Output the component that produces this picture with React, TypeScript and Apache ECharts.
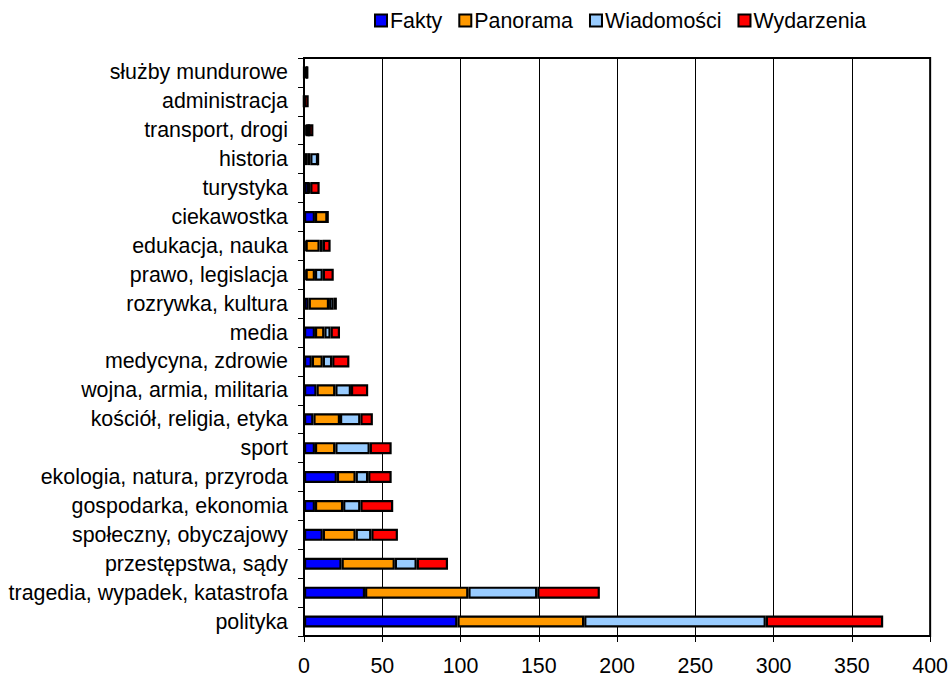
import React, { useEffect, useRef } from "react";
import * as echarts from "echarts";

const categories = [
  "polityka",
  "tragedia, wypadek, katastrofa",
  "przestępstwa, sądy",
  "społeczny, obyczajowy",
  "gospodarka, ekonomia",
  "ekologia, natura, przyroda",
  "sport",
  "kościół, religia, etyka",
  "wojna, armia, militaria",
  "medycyna, zdrowie",
  "media",
  "rozrywka, kultura",
  "prawo, legislacja",
  "edukacja, nauka",
  "ciekawostka",
  "turystyka",
  "historia",
  "transport, drogi",
  "administracja",
  "służby mundurowe",
];

const fakty = [98, 39, 24, 12, 7, 21, 7, 6, 8, 5, 7, 3, 1, 1, 7, 3, 2, 1, 0, 0];
const panorama = [81, 66, 34, 21, 18, 12, 13, 17, 12, 7, 6, 13, 6, 9, 8, 0, 2, 2, 0, 2];
const wiadomosci = [116, 44, 14, 10, 11, 8, 22, 13, 10, 6, 4, 3, 5, 2, 0, 1, 5, 0, 0, 0];
const wydarzenia = [75, 40, 20, 17, 21, 15, 14, 8, 11, 11, 6, 2, 7, 5, 0, 6, 0, 3, 3, 0];

const seriesNames = ["Fakty", "Panorama", "Wiadomości", "Wydarzenia"];
const seriesColors = ["#0000FF", "#FF9900", "#99CCFF", "#FF0000"];
const seriesData = [fakty, panorama, wiadomosci, wydarzenia];

const xTicks = { min: 0, max: 400, interval: 50 };

const FONT = "'Liberation Sans', Arial, sans-serif";
const FS = 21.4;

export default function App() {
  const ref = useRef<HTMLDivElement>(null);

  useEffect(() => {
    if (!ref.current) return;
    const chart = echarts.init(ref.current, undefined, { renderer: "svg" });
    chart.setOption({
      animation: false,
      backgroundColor: "#ffffff",
      textStyle: { fontFamily: FONT },
      legend: {
        left: 369,
        top: 5,
        itemWidth: 12,
        itemHeight: 12,
        itemGap: 16,
        icon: "rect",
        itemStyle: { borderColor: "#000", borderWidth: 2 },
        textStyle: { fontSize: FS, color: "#000", fontFamily: FONT, padding: [0, 0, 0, -2] },
        data: seriesNames,
      },
      grid: {
        left: 304,
        right: 18,
        top: 58,
        bottom: 39,
        show: true,
        borderColor: "#000",
        borderWidth: 2,
        backgroundColor: "transparent",
      },
      xAxis: {
        type: "value",
        min: xTicks.min,
        max: xTicks.max,
        interval: xTicks.interval,
        axisLine: { show: true, lineStyle: { color: "#000", width: 2 } },
        axisTick: { show: true, length: 6, lineStyle: { color: "#000", width: 1 } },
        axisLabel: { fontSize: FS, color: "#000", margin: 19, fontFamily: FONT },
        splitLine: { show: true, lineStyle: { color: "#000", width: 1 } },
      },
      yAxis: {
        type: "category",
        data: categories,
        axisLine: { show: true, lineStyle: { color: "#000", width: 2 } },
        axisTick: { show: true, length: 6, lineStyle: { color: "#000", width: 1 } },
        axisLabel: { fontSize: FS, color: "#000", margin: 16, fontFamily: FONT },
        splitLine: { show: false },
      },
      series: seriesNames.map((name, i) => ({
        name,
        type: "bar",
        stack: "total",
        barWidth: 12,
        data: seriesData[i],
        itemStyle: { color: seriesColors[i], borderColor: "#000", borderWidth: 2.2 },
      })),
    });
    return () => chart.dispose();
  }, []);

  return (
    <div
      ref={ref}
      style={{ position: "fixed", left: 0, top: 0, width: 951, height: 676 }}
    />
  );
}
